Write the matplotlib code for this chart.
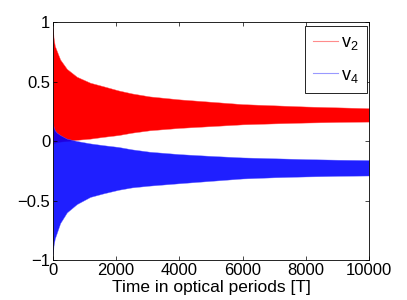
import matplotlib
matplotlib.use('Agg')
import matplotlib.pyplot as plt
from matplotlib.lines import Line2D

plt.rcParams['font.family'] = ['Liberation Sans', 'DejaVu Sans']
plt.rcParams['mathtext.fontset'] = 'custom'
plt.rcParams['mathtext.rm'] = 'Liberation Sans'
plt.rcParams['mathtext.it'] = 'Liberation Sans'

# envelope of the fast oscillation
t = [0, 20, 60, 126, 230, 442, 758, 1180, 1600, 2075, 2500, 3060, 4000, 5000, 6000, 7000, 8000, 9000, 10000]
v2_upper = [0.95, 0.87, 0.80, 0.755, 0.685, 0.606, 0.54, 0.49, 0.46, 0.425, 0.40, 0.375, 0.35, 0.33, 0.31, 0.30, 0.29, 0.283, 0.276]
v2_lower = [-0.03, -0.02, -0.015, -0.01, -0.005, 0.0, 0.01, 0.02, 0.035, 0.05, 0.07, 0.09, 0.11, 0.125, 0.14, 0.148, 0.155, 0.16, 0.163]
v4_upper = [0.15, 0.12, 0.09, 0.07, 0.05, 0.02, 0.0, -0.02, -0.035, -0.05, -0.07, -0.09, -0.11, -0.125, -0.138, -0.145, -0.152, -0.157, -0.16]
v4_lower = [-0.95, -0.88, -0.82, -0.77, -0.69, -0.60, -0.53, -0.47, -0.44, -0.41, -0.39, -0.375, -0.355, -0.335, -0.315, -0.305, -0.298, -0.293, -0.29]

xticks = [0, 2000, 4000, 6000, 8000, 10000]
yticks = [-1, -0.5, 0, 0.5, 1]
ytick_labels = ['\u22121', '\u22120.5', '0', '0.5', '1']

fig = plt.figure(figsize=(4.07, 3.0), dpi=100)
ax = fig.add_axes([0.130, 0.1333, 0.7766, 0.7933])

ax.fill_between(t, v2_lower, v2_upper, color=(1, 0, 0), linewidth=0.3, edgecolor=(1, 0.35, 0.35))
ax.fill_between(t, v4_lower, v4_upper, color=(0, 0, 1), alpha=0.88, linewidth=0.3, edgecolor=(0.4, 0.4, 1))

ax.set_xlim(0, 10000)
ax.set_ylim(-1, 1)
ax.set_xticks(xticks)
ax.set_xticklabels([str(v) for v in xticks])
ax.set_yticks(yticks)
ax.set_yticklabels(ytick_labels)
ax.tick_params(direction='in', top=True, right=True, length=3, width=0.5, labelsize=12, pad=2)
for s in ax.spines.values():
    s.set_linewidth(0.6)
ax.set_xlabel('Time in optical periods [T]', fontsize=12.5, labelpad=1.5)

handles = [Line2D([], [], color=(1, 0.55, 0.55), lw=0.8),
           Line2D([], [], color=(0.6, 0.6, 1), lw=0.8)]
leg = ax.legend(handles, ['v$_2$', 'v$_4$'], loc='upper right', bbox_to_anchor=(0.9937, 0.983),
                fontsize=13, fancybox=False, edgecolor='black', framealpha=1,
                handlelength=1.4, handletextpad=0.15, labelspacing=0.8, borderpad=0.45, borderaxespad=0)
leg.get_frame().set_linewidth(0.6)

fig.savefig('out.png', dpi=100)
